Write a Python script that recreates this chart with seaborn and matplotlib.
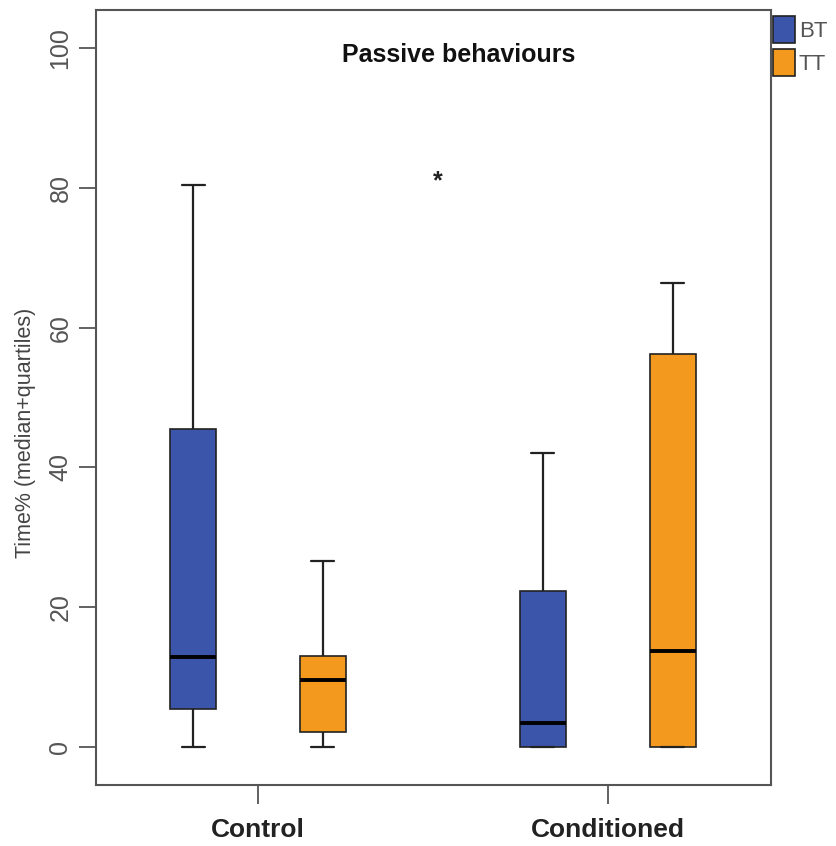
import numpy as np
import pandas as pd
import seaborn as sns
import matplotlib.pyplot as plt

# Five-number summaries: min, q1, median, q3, max
groups = ["Control", "Conditioned"]
treatments = ["BT", "TT"]
bt_stats = [[0, 5.4, 12.9, 45.5, 80.5],
            [0, 0, 3.4, 22.3, 42.1]]
tt_stats = [[0, 2.1, 9.6, 13.0, 26.6],
            [0, 0, 13.7, 56.2, 66.4]]
star_y = 81.0

# long-form table, 5 points per box so quartiles come out exactly
rows = []
for g, bt, tt in zip(groups, bt_stats, tt_stats):
    for v in bt:
        rows.append((g, "BT", v))
    for v in tt:
        rows.append((g, "TT", v))
df = pd.DataFrame(rows, columns=["Group", "Treatment", "Time"])

sns.set_style("white")
plt.rcParams['font.family'] = ['Liberation Sans', 'DejaVu Sans']

fig = plt.figure(figsize=(8.37, 8.46), dpi=100)
ax = fig.add_axes([96 / 837, 61 / 846, 675 / 837, 775 / 846])

sns.boxplot(data=df, x="Group", y="Time", hue="Treatment", order=groups,
            hue_order=treatments, palette=["#3B55AB", "#F39A1E"], saturation=1,
            whis=(0, 100), width=0.742, gap=0.645, linecolor="#222222",
            linewidth=1.2, medianprops={"linewidth": 2.8, "color": "black"},
            whiskerprops={"linewidth": 1.6}, capprops={"linewidth": 1.6},
            ax=ax)

ax.set_xlim(-0.463, 1.467)
ax.set_ylim(-5.5, 105.5)
ax.set_yticks([0, 20, 40, 60, 80, 100])
ax.set_xlabel("")
ax.set_ylabel("Time% (median+quartiles)", fontsize=15.5, color="#444444")
ax.yaxis.set_label_coords(-0.089, 0.455)
ax.tick_params(axis="y", labelsize=18, labelcolor="#555555", length=12,
               width=1.3, color="#555555", labelrotation=90, left=True, pad=5)
ax.tick_params(axis="x", labelsize=19, length=14, width=1.3, color="#555555",
               bottom=True, pad=10)
for lab in ax.get_xticklabels():
    lab.set_fontweight("bold")
    lab.set_color("#222222")
for lab in ax.get_yticklabels():
    lab.set_va("center")
for sp in ax.spines.values():
    sp.set_color("#555555")
    sp.set_linewidth(1.5)

ax.text(0.538, 0.942, "Passive behaviours", transform=ax.transAxes,
        ha="center", va="center", fontsize=18, fontweight="bold", color="#111111")
ax.text(0.515, star_y, "*", ha="center", va="center", fontsize=18,
        fontweight="bold", color="#222222")

sns.move_legend(ax, "upper left", bbox_to_anchor=(1.0, 0.995), frameon=False,
                title=None, fontsize=16, handlelength=1.0, handleheight=1.5,
                handletextpad=0.15, labelspacing=0.25, borderaxespad=0.1,
                borderpad=0.0, labelcolor="#555555")

fig.savefig("out.png", dpi=100)
